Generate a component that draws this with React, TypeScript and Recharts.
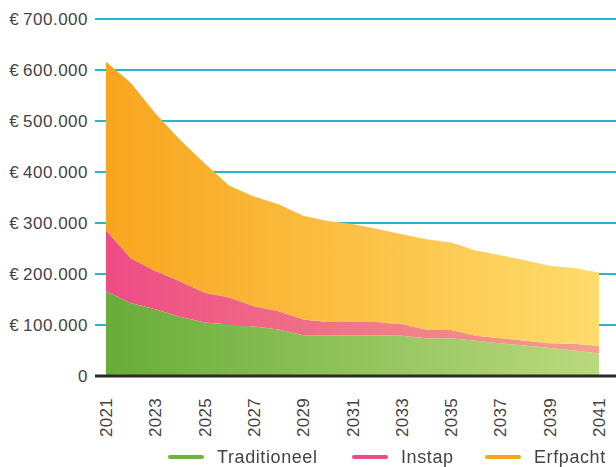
import { AreaChart, Area, XAxis, YAxis, CartesianGrid, ReferenceLine } from 'recharts';

const years = [
    2021, 2022, 2023, 2024, 2025, 2026, 2027, 2028, 2029, 2030, 2031,
    2032, 2033, 2034, 2035, 2036, 2037, 2038, 2039, 2040, 2041,
];

// values in euro, per scenario
const traditioneel = [
    166000, 143000, 131000, 116000, 105000, 101000, 97000, 91000, 80000, 80000, 80000,
    80000, 79000, 74000, 74000, 69000, 64000, 60000, 55000, 50000, 44000,
];
const instap = [
    120000, 88000, 75000, 70000, 58000, 53000, 40000, 36000, 31000, 26000, 26000,
    26000, 22000, 17000, 16000, 10000, 10000, 9000, 9000, 13000, 15000,
];
const erfpacht = [
    330000, 344000, 309000, 277000, 254000, 219000, 215000, 210000, 203000, 198000, 192000,
    182000, 177000, 177000, 172000, 167000, 163000, 158000, 152000, 149000, 144000,
];

const yearTicks = [2021, 2023, 2025, 2027, 2029, 2031, 2033, 2035, 2037, 2039, 2041];
const valueTicks = [0, 100000, 200000, 300000, 400000, 500000, 600000, 700000];

const data = years.map((year, i) => ({
    year,
    traditioneel: traditioneel[i],
    instap: instap[i],
    erfpacht: erfpacht[i],
}));

const legendItems = [
    { label: 'Traditioneel', color: '#6cb33f', left: 168 },
    { label: 'Instap', color: '#ec4b83', left: 352 },
    { label: 'Erfpacht', color: '#f7a51f', left: 485 },
];

const font = '"Liberation Sans", Arial, sans-serif';

const formatEuro = (v: number) =>
    v === 0 ? '0' : '€\u2009' + v.toLocaleString('de-DE');

function YearTick({ x, y, payload }: any) {
    return (
        <text
            x={x}
            y={y}
            transform={`rotate(-90 ${x} ${y})`}
            dx={-14}
            dy={6}
            textAnchor="end"
            fontSize={17}
            letterSpacing={0.3}
            fill="#444"
            fontFamily={font}
        >
            {payload.value}
        </text>
    );
}

function ChartLegend() {
    return (
        <div style={{ position: 'absolute', left: 0, top: 446, width: 616, height: 22 }}>
            {legendItems.map((item) => (
                <div
                    key={item.label}
                    style={{
                        position: 'absolute',
                        left: item.left,
                        top: 0,
                        display: 'flex',
                        alignItems: 'center',
                        whiteSpace: 'nowrap',
                        height: 22,
                    }}
                >
                    <span
                        style={{
                            display: 'inline-block',
                            width: 36,
                            height: 4,
                            borderRadius: 2,
                            background: item.color,
                            marginRight: 13,
                        }}
                    />
                    <span style={{ fontSize: 18, letterSpacing: 0.6, color: '#444', fontFamily: font }}>
                        {item.label}
                    </span>
                </div>
            ))}
        </div>
    );
}

export default function App() {
    return (
        <div style={{ position: 'fixed', left: 0, top: 0, width: 616, height: 467, background: '#fff' }}>
            <AreaChart width={616} height={467} data={data} margin={{ top: 19, right: 0, bottom: 31, left: 0 }}>
                <defs>
                    <linearGradient id="gradGreen" x1="0" y1="0" x2="1" y2="0">
                        <stop offset="0%" stopColor="#69ac3a" />
                        <stop offset="100%" stopColor="#bbd97f" />
                    </linearGradient>
                    <linearGradient id="gradPink" x1="0" y1="0" x2="1" y2="0">
                        <stop offset="0%" stopColor="#ed4c85" />
                        <stop offset="100%" stopColor="#f5a08b" />
                    </linearGradient>
                    <linearGradient id="gradOrange" x1="0" y1="0" x2="1" y2="0">
                        <stop offset="0%" stopColor="#f8a51e" />
                        <stop offset="100%" stopColor="#fedc6c" />
                    </linearGradient>
                </defs>
                <CartesianGrid vertical={false} stroke="#29b5cd" strokeWidth={2} />
                <XAxis
                    dataKey="year"
                    type="number"
                    domain={[2021, 2041]}
                    ticks={yearTicks}
                    interval={0}
                    padding={{ left: 11, right: 17 }}
                    axisLine={false}
                    tickLine={false}
                    height={60}
                    tick={<YearTick />}
                />
                <YAxis
                    domain={[0, 700000]}
                    ticks={valueTicks}
                    width={95}
                    axisLine={false}
                    tickLine={false}
                    tickMargin={1}
                    tickFormatter={formatEuro}
                    tick={{ fontSize: 17, fill: '#444', fontFamily: font, letterSpacing: 0.5 }}
                />
                <Area
                    type="linear"
                    dataKey="traditioneel"
                    stackId="1"
                    stroke="none"
                    fill="url(#gradGreen)"
                    fillOpacity={1}
                    isAnimationActive={false}
                />
                <Area
                    type="linear"
                    dataKey="instap"
                    stackId="1"
                    stroke="none"
                    fill="url(#gradPink)"
                    fillOpacity={1}
                    isAnimationActive={false}
                />
                <Area
                    type="linear"
                    dataKey="erfpacht"
                    stackId="1"
                    stroke="none"
                    fill="url(#gradOrange)"
                    fillOpacity={1}
                    isAnimationActive={false}
                />
                <ReferenceLine y={0} stroke="#2b2b2b" strokeWidth={3} />
            </AreaChart>
            <ChartLegend />
        </div>
    );
}
